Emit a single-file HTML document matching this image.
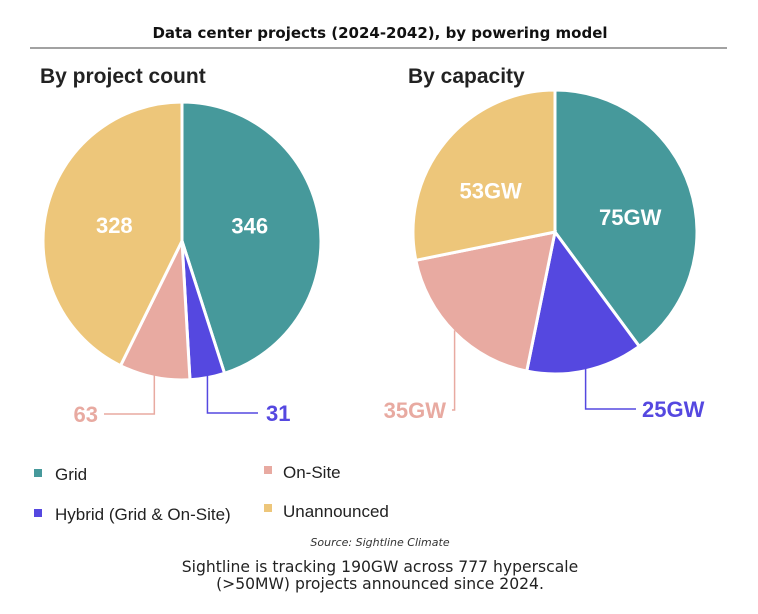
<!DOCTYPE html>
<html><head><meta charset="utf-8"><style>
body{margin:0;background:#fff;width:758px;height:609px;overflow:hidden}
svg text{font-family:"Liberation Sans",sans-serif}
</style></head><body>
<svg id="c" width="758" height="609">
<text x="380" y="38" text-anchor="middle" style="font-family:'DejaVu Sans',sans-serif;font-weight:bold;font-size:15px" fill="#111">Data center projects (2024-2042), by powering model</text>
<line x1="30" y1="48" x2="727" y2="48" stroke="#444" stroke-width="1"/>
<text x="40" y="83" font-size="21" font-weight="bold" fill="#222">By project count</text>
<text x="408" y="83" font-size="21" font-weight="bold" fill="#222">By capacity</text>
<g id="pies"></g>
<g>
<rect x="34" y="469" width="8" height="8" fill="#46999b"/>
<text x="55" y="480" font-size="17" fill="#222">Grid</text>
<rect x="34" y="509" width="8" height="8" fill="#5548e0"/>
<text x="55" y="520" font-size="17" fill="#222">Hybrid (Grid &amp; On-Site)</text>
<rect x="264" y="466" width="8" height="8" fill="#e8aaa1"/>
<text x="283" y="478" font-size="17" fill="#222">On-Site</text>
<rect x="264" y="504" width="8" height="8" fill="#edc67a"/>
<text x="283" y="517" font-size="17" fill="#222">Unannounced</text>
</g>
<text x="380" y="546" text-anchor="middle" font-size="11" font-style="italic" style="font-family:'DejaVu Sans',sans-serif" fill="#333">Source: Sightline Climate</text>
<text x="380" y="572" text-anchor="middle" font-size="15.6" style="font-family:'DejaVu Sans',sans-serif" fill="#222">Sightline is tracking 190GW across 777 hyperscale</text>
<text x="380" y="589" text-anchor="middle" font-size="15.6" style="font-family:'DejaVu Sans',sans-serif" fill="#222">(&gt;50MW) projects announced since 2024.</text>
</svg>
<script>
const categories=["Grid","Hybrid","On-Site","Unannounced"];
const countValues=[346,31,63,328];
const capacityValues=[75,25,35,53];
const countLabels=["346","31","63","328"];
const capacityLabels=["75GW","25GW","35GW","53GW"];
const colors=["#46999b","#5548e0","#e8aaa1","#edc67a"];
const NS="http://www.w3.org/2000/svg";
const g=document.getElementById("pies");
function mk(t,a){const e=document.createElementNS(NS,t);for(const k in a)e.setAttribute(k,a[k]);g.appendChild(e);return e;}
function pt(cx,cy,r,a){return [cx+r*Math.sin(a),cy-r*Math.cos(a)];}
function pie(name,cx,cy,r,vals,labels,lead,inner){
  const tot=vals.reduce((a,b)=>a+b,0);let a0=0;
  vals.forEach((v,i)=>{
    const a1=a0+v/tot*2*Math.PI;
    const p0=pt(cx,cy,r,a0),p1=pt(cx,cy,r,a1);
    const p=mk("path",{d:`M${cx},${cy}L${p0[0]},${p0[1]}A${r},${r} 0 ${a1-a0>Math.PI?1:0} 1 ${p1[0]},${p1[1]}Z`,fill:colors[i],stroke:"#fff","stroke-width":3});
    
    
    const m=(a0+a1)/2;
    if(i==0||i==3){
      const q=pt(cx,cy,r*inner.rf,m+inner.shift[i]);
      const t=mk("text",{x:q[0],y:q[1]+8,"text-anchor":"middle","font-size":22,"font-weight":"bold",fill:"#fff"});
      t.textContent=labels[i];
      
      
    }else{
      const e=pt(cx,cy,r,m);const L=lead[i];
      const ly=L.y;
      const ln=mk("polyline",{points:`${e[0]},${e[1]-2} ${e[0]},${ly} ${L.x},${ly}`,fill:"none",stroke:colors[i],"stroke-width":1.5});
      
      
      const t=mk("text",{x:L.tx,y:ly+8,"text-anchor":L.anchor,"font-size":22,"font-weight":"bold",fill:colors[i]});
      t.textContent=labels[i];
      
      
    }
    a0=a1;
  });
}
pie("count-pie",182,241,139,countValues,countLabels,{1:{x:258,y:413,tx:266,anchor:"start"},2:{x:104,y:414,tx:98,anchor:"end"}},{rf:0.5,shift:{0:-0.07,3:0}});
pie("capacity-pie",555,232,142,capacityValues,capacityLabels,{1:{x:636,y:409,tx:642,anchor:"start"},2:{x:452,y:410,tx:446,anchor:"end"}},{rf:0.54,shift:{0:0.12,3:-0.11}});
</script>
</body></html>
